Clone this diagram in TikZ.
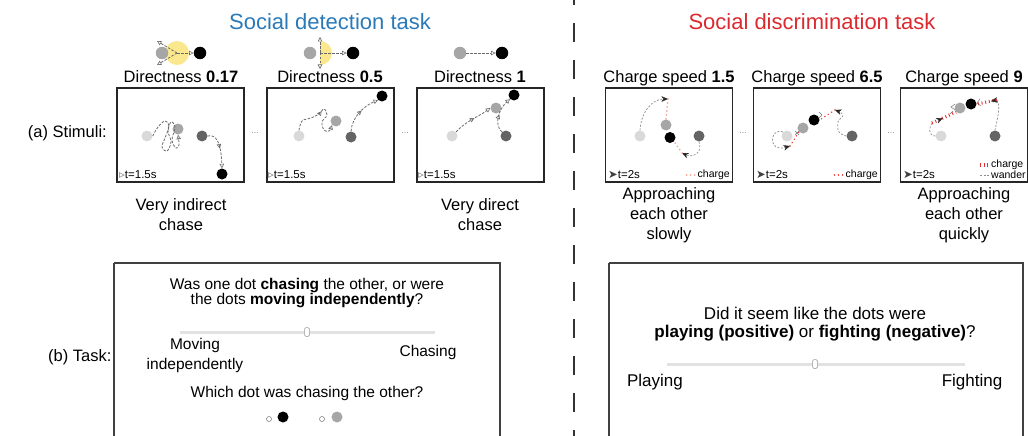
\documentclass[tikz,border=0pt]{standalone}
\usepackage{fontspec}
\setmainfont{Liberation Sans}
\newfontfamily\symf{DejaVu Sans}
\usepackage{xcolor}
\usepackage{tikz}
\usetikzlibrary{arrows.meta,positioning,calc,decorations.markings}
\definecolor{cDetect}{HTML}{2A7AB9}
\definecolor{cDiscr}{HTML}{DB2A2F}
\definecolor{cLight}{HTML}{D9D9D9}
\definecolor{cMid}{HTML}{A6A6A6}
\definecolor{cDark}{HTML}{646464}
\definecolor{cHalo}{HTML}{FBE88E}
\definecolor{cSalmon}{HTML}{F5A99B}
\definecolor{cCharge}{HTML}{E5302E}
\definecolor{cGrey}{HTML}{6A6A6A}
\definecolor{cRail}{HTML}{E2E2E2}
\tikzset{
  stim/.style={draw=black!85, line width=1.3pt, minimum width=127pt, minimum height=94pt, inner sep=0pt},
  dot/.style={circle, fill=#1, inner sep=0pt, minimum size=11pt},
  bigdot/.style={circle, fill=#1, inner sep=0pt, minimum size=12.5pt},
  ring/.style={circle, draw=black!55, line width=0.5pt, inner sep=0pt, minimum size=5pt},
  chase/.style={dash pattern=on 2.5pt off 1.5pt, line width=0.8pt, draw=cGrey,
                -{Triangle[open, length=4.5pt, width=4.5pt, line width=0.6pt]}},
  midtip/.style={postaction={decorate}, decoration={markings,
                 mark=at position #1 with {\arrow{Triangle[open, length=4.5pt, width=4.5pt, line width=0.6pt]}}}},
  fmid/.style={postaction={decorate}, decoration={markings,
                 mark=at position #1 with {\arrow{Stealth[length=6.5pt, width=5.5pt, inset=2pt, color=black!85, line width=0.3pt]}}}},
  wander/.style={dash pattern=on 2pt off 1.6pt, line width=0.7pt, draw=black!45},
  tipS/.style={-{Stealth[length=6.5pt, width=5.5pt, inset=2pt, color=black!85, line width=0.3pt]}},
  chgS/.style={line width=2pt, line cap=round, dash pattern=on 0pt off 4pt, draw=cSalmon},
  chgR/.style={line width=1.6pt, line cap=round, dash pattern=on 0pt off 4pt, draw=cCharge},
  chgB/.style={line width=3.2pt, dash pattern=on 0.9pt off 2.8pt, draw=cCharge},
  spark/.style={draw=black!55, line width=0.5pt},
  lbl/.style={font=\fontsize{16.5}{20}\selectfont, align=center, inner sep=0pt},
  ttl/.style={font=\fontsize{22}{26}\selectfont, inner sep=0pt},
  tiny/.style={font=\fontsize{11.5}{13}\selectfont, inner sep=0pt},
  leg/.style={font=\fontsize{10.5}{12}\selectfont, inner sep=0pt},
  gap/.style={font=\fontsize{9}{10}\selectfont, text=black!45, inner sep=0pt},
  qA/.style={font=\fontsize{15.5}{15.5}\selectfont, align=center, inner sep=0pt},
  qB/.style={font=\fontsize{17}{18.5}\selectfont, align=center, inner sep=0pt},
  taskbox/.style={draw=black!75, line width=1.2pt},
  rail/.style={draw=cRail, line width=3pt},
  knob/.style={draw=black!40, fill=white, rounded corners=1.5pt, line width=0.5pt,
               minimum width=5pt, minimum height=9pt, inner sep=0pt},
  divider/.style={draw=black!80, line width=1.6pt, dash pattern=on 19pt off 18pt, dash phase=14pt},
}
\begin{document}
\begin{tikzpicture}[x=1pt, y=-1pt]
  \useasboundingbox (0,0) rectangle (1028,436);

  \node[ttl, text=cDetect] (tdet) at (330,22) {Social detection task};
  \node[ttl, text=cDiscr] (tdis) at (812,22) {Social discrimination task};
  \draw[divider] (574,0) -- (574,436);

  \node[lbl, anchor=east] (ra) at (107,133) {(a) Stimuli:};
  \node[lbl, anchor=west] (rb) at (48,357) {(b) Task:};

  % chase icons
  \fill[cHalo] (177,53) circle (12);
  \fill[cHalo] (320,41) arc[start angle=-90, end angle=90, radius=12] -- cycle;
  \node[bigdot=cMid] (p1) at (162,53) {};
  \node[bigdot=black] (q1) at (200,53) {};
  \node[bigdot=cMid] (p2) at (310,53) {};
  \node[bigdot=black] (q2) at (353,53) {};
  \node[bigdot=cMid] (p3) at (460,53) {};
  \node[bigdot=black] (q3) at (502,53) {};
  \coordinate (h1) at (177,53);
  \coordinate (h1u) at (157,41);
  \coordinate (h1d) at (157,65);
  \coordinate (h2) at (320,53);
  \coordinate (h2u) at (320,37);
  \coordinate (h2d) at (320,69);
  \draw[chase] (h1) -- (q1);
  \draw[chase] (h1) -- (h1u);
  \draw[chase] (h1) -- (h1d);
  \draw[chase] (h2) -- (q2);
  \draw[chase] (h2) -- (h2u);
  \draw[chase] (h2) -- (h2d);
  \draw[chase] (p3) -- (q3);

  \node[lbl] (d1) at (181,77) {Directness \textbf{0.17}};
  \node[lbl] (d2) at (330,77) {Directness \textbf{0.5}};
  \node[lbl] (d3) at (480,77) {Directness \textbf{1}};
  \node[lbl] (c1) at (669,78) {Charge speed \textbf{1.5}};
  \node[lbl] (c2) at (817,78) {Charge speed \textbf{6.5}};
  \node[lbl] (c3) at (964,78) {Charge speed \textbf{9}};

  \node[stim] (s1) at (180.5,135) {};
  \node[stim] (s2) at (330.5,135) {};
  \node[stim] (s3) at (480.5,135) {};
  \node[stim] (s4) at (669,135) {};
  \node[stim] (s5) at (817,135) {};
  \node[stim] (s6) at (964,135) {};
  \node[gap] (e1) at (255,133) {...};
  \node[gap] (e2) at (405,133) {...};
  \node[gap] (e3) at (743,133) {...};
  \node[gap] (e4) at (891,133) {...};

  % detection stimuli
  \node[dot=cLight] (l1) at (147,136) {};
  \node[dot=cMid] (g1) at (178,129) {};
  \node[dot=cDark] (k1) at (202,136) {};
  \node[dot=black] (b1) at (222,174) {};
  \draw[chase] plot[smooth, tension=0.6] coordinates {(l1.east) (158,127) (165,121) (169,126) (165,138)
    (162,147) (167,151) (171,142) (168,131) (171,122) (175,127) (172,140) (176,148) (179,145) (g1.south)};
  \draw[chase, midtip=0.5] (k1.east) .. controls (216,134) and (221,142) .. (b1.north);

  \node[dot=cLight] (l2) at (299,136) {};
  \node[dot=cMid] (g2) at (336,121) {};
  \node[dot=cDark] (k2) at (351,137) {};
  \node[dot=black] (b2) at (382,96) {};
  \draw[chase, midtip=0.45] plot[smooth, tension=0.6] coordinates {(l2.north) (302,121) (311,118) (319,114)
    (324,109) (327,115) (322,122) (324,130) (329,131) (g2.south west)};
  \draw[chase, midtip=0.55] (k2.north) .. controls (352,117) and (364,106) .. (b2.south west);

  \node[dot=cLight] (l3) at (452,136) {};
  \node[dot=cMid] (g3) at (496,108) {};
  \node[dot=cDark] (k3) at (506,136) {};
  \node[dot=black] (b3) at (514,95) {};
  \draw[chase, midtip=0.55] (l3.north east) .. controls (466,121) and (478,117) .. (g3.west);
  \draw[chase, midtip=0.5] (k3.north west) .. controls (494,125) and (498,110) .. (b3.south west);

  \node[tiny, anchor=west] (t1) at (119,175) {{\symf\textcolor{black!55}{▹}}t=1.5s};
  \node[tiny, anchor=west] (t2) at (268,175) {{\symf\textcolor{black!55}{▹}}t=1.5s};
  \node[tiny, anchor=west] (t3) at (418,175) {{\symf\textcolor{black!55}{▹}}t=1.5s};

  % discrimination stimuli
  \node[dot=cLight] (l4) at (640,136) {};
  \node[dot=cMid] (g4) at (666,125) {};
  \node[dot=black] (b4) at (670,137.5) {};
  \node[dot=cDark] (k4) at (699,136) {};
  \coordinate (a4) at (668,99);
  \coordinate (w4) at (682,153);
  \draw[wander, tipS] (l4.north) .. controls (641,112) and (652,99) .. (a4);
  \draw[chgS] (a4) -- (g4.north);
  \draw[wander, tipS] (k4.south) .. controls (703,153) and (693,158) .. (w4);
  \draw[chgS] (w4) -- (b4.south east);

  \node[dot=cLight] (l5) at (787,136) {};
  \node[dot=cMid] (g5) at (803,128) {};
  \node[dot=black] (b5) at (814,120) {};
  \node[dot=cDark] (k5) at (852,136) {};
  \coordinate (a5) at (790,146);
  \coordinate (w5) at (835,110);
  \draw[wander, tipS] (l5.north west) .. controls (770,127) and (767,153) .. (a5);
  \draw[chgR] (a5) -- (g5.south west);
  \draw[wander, tipS] plot[smooth, tension=0.7] coordinates {(k5.west) (839,132) (838,122) (843,115) (w5)};
  \draw[chgR] (w5) -- (b5.east);
  \draw[spark] (795,131) -- (799,135) (795,135) -- (799,131);
  \draw[spark] (819,112) -- (822,115) -- (819,118);

  \node[dot=cLight] (l6) at (941,136) {};
  \node[dot=cMid] (g6) at (960,108) {};
  \node[dot=black] (b6) at (971,104) {};
  \node[dot=cDark] (k6) at (995,136) {};
  \coordinate (a6) at (932,123);
  \coordinate (w6) at (997,100);
  \draw[wander] (l6.west) .. controls (928,136) and (929,127) .. (a6);
  \draw[chgB, fmid=0.45] (a6) -- (g6.south west);
  \draw[wander] (k6.north) .. controls (997,120) and (1001,107) .. (w6);
  \draw[chgB, fmid=0.3] (w6) -- (b6.east);
  \draw[spark] (955,104) -- (951,107) -- (955,110) (953,111) -- (950,114);
  \draw[spark] (980,99) -- (977,103) -- (981,106);

  \node[tiny, anchor=west] (t4) at (608,175) {{\symf\textcolor{black!75}{➤}}t=2s};
  \node[tiny, anchor=west] (t5) at (756,175) {{\symf\textcolor{black!75}{➤}}t=2s};
  \node[tiny, anchor=west] (t6) at (903,175) {{\symf\textcolor{black!75}{➤}}t=2s};
  \node[leg, anchor=east] (lg4) at (730,175) {charge};
  \node[leg, anchor=east] (lg5) at (878,175) {charge};
  \node[leg, anchor=west] (lg6) at (991,165) {charge};
  \node[leg, anchor=west] (lw6) at (991,175) {wander};
  \draw[chgS] ($(lg4.west)+(-11,0)$) -- ($(lg4.west)+(-2,0)$);
  \draw[chgR] ($(lg5.west)+(-11,0)$) -- ($(lg5.west)+(-2,0)$);
  \draw[chgB] ($(lg6.west)+(-11,0)$) -- ($(lg6.west)+(-2,0)$);
  \draw[wander] ($(lw6.west)+(-11,0)$) -- ($(lw6.west)+(-2,0)$);

  \node[lbl] (v1) at (181,215) {Very indirect\\chase};
  \node[lbl] (v3) at (480,215) {Very direct\\chase};
  \node[lbl] (v4) at (669,215) {Approaching\\each other\\slowly};
  \node[lbl] (v6) at (964,215) {Approaching\\each other\\quickly};

  % task panels
  \draw[taskbox] (114,263) -- (114,450) (114,263) -- (500,263) -- (500,450);
  \draw[taskbox] (609,263) -- (609,450) (609,263) -- (1023,263) -- (1023,450);

  \node[qA] (qa) at (307,293) {Was one dot \textbf{chasing} the other, or were\\the dots \textbf{moving independently}?};
  \coordinate (ra1) at (180,332);
  \coordinate (ra2) at (435,332);
  \draw[rail] (ra1) -- (ra2);
  \node[knob] (ka) at (307,332) {};
  \node[qA, font=\fontsize{15.5}{20}\selectfont] (mi) at (195,355) {Moving\\independently};
  \node[qA] (ch) at (428,352) {Chasing};
  \node[qA] (wd) at (307,393) {Which dot was chasing the other?};
  \node[ring] (o1) at (269,419) {};
  \node[dot=black] (r1) at (283,417) {};
  \node[ring] (o2) at (322,419) {};
  \node[dot=cMid] (r2) at (337,417) {};

  \node[qB] (qb) at (815,324) {Did it seem like the dots were\\\textbf{playing (positive)} or \textbf{fighting (negative)}?};
  \coordinate (rb1) at (667,364);
  \coordinate (rb2) at (965,364);
  \draw[rail] (rb1) -- (rb2);
  \node[knob] (kb) at (815,364) {};
  \node[qB] (pl) at (655,382) {Playing};
  \node[qB] (fi) at (972,382) {Fighting};
\end{tikzpicture}
\end{document}
